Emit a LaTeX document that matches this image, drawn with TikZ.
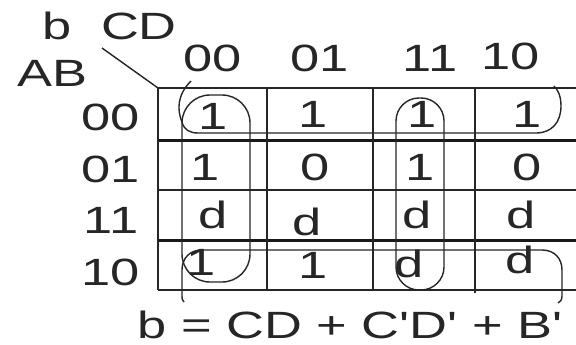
\documentclass[tikz,border=0pt]{standalone}
\usepackage{fontspec}
\newfontfamily\kfont[FakeStretch=1.38]{Liberation Sans}
\begin{document}
\begin{tikzpicture}[x=1pt,y=-1pt,
  lbl/.style={font=\kfont\fontsize{38}{40}\selectfont, inner sep=0pt, anchor=base, text=black!85},
  thin/.style={line width=1.4pt, black!85},
  thick/.style={line width=3pt, black!90},
  loop/.style={line width=1.4pt, black!85}]
\useasboundingbox (0,0) rectangle (576,345);
\fill[white] (0,0) rectangle (576,345);
% grid
\coordinate (corner) at (158,88);
\coordinate (dstart) at (102,48);
\draw[thin] (dstart) -- (corner);
\draw[thin] (corner) -- (576,88);
\draw[thin] (158,190) -- (576,190);
\draw[thin] (158,290) -- (576,290);
\draw[thick] (158,140) -- (576,140);
\draw[thick] (158,240) -- (576,240);
\draw[thin] (corner) -- (158,290);
\draw[thin] (267,88) -- (267,290);
\draw[thin] (373,88) -- (373,290);
\draw[thin] (475,88) -- (475,293);
% labels
\node[lbl] (b) at (57,40) {b};
\node[lbl] (cd) at (139,40) {CD};
\node[lbl] (ab) at (52,87) {AB};
\node[lbl] (c1) at (213,72) {00};
\node[lbl] (c2) at (320,72) {01};
\node[lbl] (c3) at (430,71) {11};
\node[lbl] (c4) at (511,70) {10};
\node[lbl] (r1) at (111,130) {00};
\node[lbl] (r2) at (111,182) {01};
\node[lbl] (r3) at (111,233) {11};
\node[lbl] (r4) at (111,285) {10};
% cells
\node[lbl] (v11) at (213,129) {1};
\node[lbl] (v12) at (313,127) {1};
\node[lbl] (v13) at (422,128) {1};
\node[lbl] (v14) at (527,128) {1};
\node[lbl] (v21) at (205,180) {1};
\node[lbl] (v22) at (315,180) {0};
\node[lbl] (v23) at (420,180) {1};
\node[lbl] (v24) at (527,180) {0};
\node[lbl] (v31) at (213,228) {d};
\node[lbl] (v32) at (307,235) {d};
\node[lbl] (v33) at (417,228) {d};
\node[lbl] (v34) at (521,228) {d};
\node[lbl] (v41) at (201,275) {1};
\node[lbl] (v42) at (313,278) {1};
\node[lbl] (v43) at (409,277) {d};
\node[lbl] (v44) at (520,273) {d};
% loops
\draw[loop, rounded corners=28pt] (182,95) rectangle (250,282);
\draw[loop, rounded corners=23pt] (396,98) rectangle (444,290);
\draw[loop] (191,81) .. controls (177,95) and (177,110) .. (182,122)
  .. controls (184,130) and (190,133) .. (198,133) -- (536,133)
  .. controls (552,133) and (561,122) .. (561,106)
  .. controls (561,96) and (558,90) .. (554,86);
\draw[loop] (184,302) .. controls (182,300) and (182,299) .. (182,296) -- (182,270)
  .. controls (182,258) and (190,250) .. (202,250) -- (542,250)
  .. controls (555,250) and (562,259) .. (562,270) -- (562,296)
  .. controls (562,300) and (560,302) .. (558,303);
% formula
\node[lbl] (f) at (350,338) {b = CD + C'D' + B'};
\end{tikzpicture}
\end{document}
